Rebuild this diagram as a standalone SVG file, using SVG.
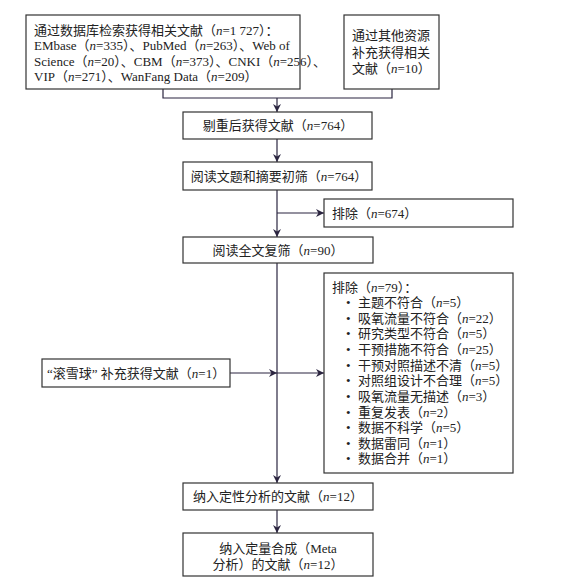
<svg xmlns="http://www.w3.org/2000/svg" width="575" height="580" viewBox="0 0 575 580">
<defs>
<marker id="ah" viewBox="0 0 10 10" refX="10" refY="5" markerWidth="8" markerHeight="8" markerUnits="userSpaceOnUse" orient="auto">
<path d="M0,0 L10,5 L0,10 L3,5 Z" fill="#2b2540"/>
</marker>
<style>
.box{fill:#fff;stroke:#333;stroke-width:1.2}
.t{font-family:"Liberation Serif","Noto Sans CJK SC",serif;font-size:13px;fill:#222}
.c{text-anchor:middle}
.ln{fill:none;stroke:#2b2540;stroke-width:1.2}
.arr{marker-end:url(#ah)}
</style>
</defs>
<rect width="575" height="580" fill="#fff"/>
<g id="connectors">
<polyline class="ln" points="163,89 163,98 392,98 392,89"/>
<line class="ln arr" x1="277" y1="98" x2="277" y2="112"/>
<line class="ln arr" x1="277" y1="139" x2="277" y2="162"/>
<line class="ln arr" x1="277" y1="190" x2="277" y2="237"/>
<line class="ln arr" x1="277" y1="213" x2="324" y2="213"/>
<line class="ln arr" x1="277" y1="263" x2="277" y2="483"/>
<line class="ln arr" x1="230" y1="373" x2="277" y2="373"/>
<line class="ln arr" x1="277" y1="373" x2="324" y2="373"/>
<line class="ln arr" x1="277" y1="510" x2="277" y2="533"/>
</g>
<g id="db">
<rect class="box" x="26" y="15" width="274" height="74"/>
<text class="t" x="34" y="35">通过数据库检索获得相关文献（<tspan font-style="italic">n</tspan>=1 727）：</text>
<text class="t" x="34" y="50">EMbase（<tspan font-style="italic">n</tspan>=335）、PubMed（<tspan font-style="italic">n</tspan>=263）、Web of</text>
<text class="t" x="34" y="66">Science（<tspan font-style="italic">n</tspan>=20）、CBM（<tspan font-style="italic">n</tspan>=373）、CNKI（<tspan font-style="italic">n</tspan>=256）、</text>
<text class="t" x="34" y="81">VIP（<tspan font-style="italic">n</tspan>=271）、WanFang Data（<tspan font-style="italic">n</tspan>=209）</text>
</g>
<g id="other">
<rect class="box" x="344" y="15" width="95" height="74"/>
<text class="t" x="352" y="40">通过其他资源</text>
<text class="t" x="352" y="57">补充获得相关</text>
<text class="t" x="352" y="73">文献（<tspan font-style="italic">n</tspan>=10）</text>
</g>
<g id="dedup">
<rect class="box" x="183" y="112" width="189" height="27"/>
<text class="t c" x="278" y="130">剔重后获得文献（<tspan font-style="italic">n</tspan>=764）</text>
</g>
<g id="screen1">
<rect class="box" x="183" y="162" width="189" height="28"/>
<text class="t c" x="279" y="181">阅读文题和摘要初筛（<tspan font-style="italic">n</tspan>=764）</text>
</g>
<g id="excl1">
<rect class="box" x="324" y="199" width="189" height="28"/>
<text class="t" x="332" y="218">排除（<tspan font-style="italic">n</tspan>=674）</text>
</g>
<g id="screen2">
<rect class="box" x="183" y="237" width="190" height="26"/>
<text class="t c" x="278" y="255">阅读全文复筛（<tspan font-style="italic">n</tspan>=90）</text>
</g>
<g id="excl2">
<rect class="box" x="324" y="273" width="189" height="200"/>
<text class="t" x="332" y="292">排除（<tspan font-style="italic">n</tspan>=79）：</text>
<g class="t">
<text x="346" y="307">•</text><text x="358" y="307">主题不符合（<tspan font-style="italic">n</tspan>=5）</text>
<text x="346" y="323">•</text><text x="358" y="323">吸氧流量不符合（<tspan font-style="italic">n</tspan>=22）</text>
<text x="346" y="338">•</text><text x="358" y="338">研究类型不符合（<tspan font-style="italic">n</tspan>=5）</text>
<text x="346" y="354">•</text><text x="358" y="354">干预措施不符合（<tspan font-style="italic">n</tspan>=25）</text>
<text x="346" y="370">•</text><text x="358" y="370">干预对照描述不清（<tspan font-style="italic">n</tspan>=5）</text>
<text x="346" y="385">•</text><text x="358" y="385">对照组设计不合理（<tspan font-style="italic">n</tspan>=5）</text>
<text x="346" y="401">•</text><text x="358" y="401">吸氧流量无描述（<tspan font-style="italic">n</tspan>=3）</text>
<text x="346" y="417">•</text><text x="358" y="417">重复发表（<tspan font-style="italic">n</tspan>=2）</text>
<text x="346" y="432">•</text><text x="358" y="432">数据不科学（<tspan font-style="italic">n</tspan>=5）</text>
<text x="346" y="448">•</text><text x="358" y="448">数据雷同（<tspan font-style="italic">n</tspan>=1）</text>
<text x="346" y="463">•</text><text x="358" y="463">数据合并（<tspan font-style="italic">n</tspan>=1）</text>
</g>
</g>
<g id="snowball">
<rect class="box" x="42" y="359" width="188" height="28"/>
<text class="t" x="47" y="378">“滚雪球” 补充获得文献（<tspan font-style="italic">n</tspan>=1）</text>
</g>
<g id="qual">
<rect class="box" x="183" y="483" width="190" height="27"/>
<text class="t c" x="278" y="501">纳入定性分析的文献（<tspan font-style="italic">n</tspan>=12）</text>
</g>
<g id="quant">
<rect class="box" x="183" y="533" width="190" height="43"/>
<text class="t c" x="278" y="553">纳入定量合成（Meta</text>
<text class="t c" x="278" y="569">分析）的文献（<tspan font-style="italic">n</tspan>=12）</text>
</g>
</svg>
